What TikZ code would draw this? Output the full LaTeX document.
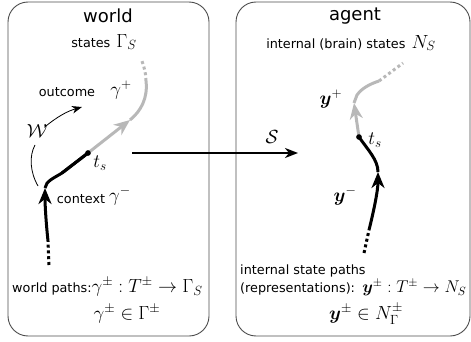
\RequirePackage{fix-cm}
\documentclass[tikz,border=0pt]{standalone}
\usepackage{amsmath,bm}
\usepackage[no-math]{fontspec}
\setmainfont{DejaVu Sans}
\usetikzlibrary{arrows.meta}
\definecolor{lg}{gray}{0.72}
\definecolor{boxc}{gray}{0.3}
\tikzset{
  panel/.style={draw=boxc,line width=0.9pt,rounded corners=20pt},
  ttl/.style={font=\fontsize{18}{21}\selectfont,inner sep=0pt},
  txt/.style={font=\fontsize{12.8}{15}\selectfont,inner sep=0pt},
  mlab/.style={font=\fontsize{19}{22}\selectfont,inner sep=0pt},
  mlabs/.style={font=\fontsize{17}{20}\selectfont,inner sep=0pt},
  bpath/.style={line width=3pt,black},
  gpath/.style={line width=3pt,lg},
  dotted line/.style={dash pattern=on 3pt off 2.8pt},
  ptip/.style={-{Stealth[length=16pt,width=13pt,inset=5pt]}},
  dotn/.style={circle,fill=black,inner sep=0pt,minimum size=5pt},
}
\newcommand{\tx}[1]{{\fontsize{12.8}{15}\selectfont #1}}
\begin{document}
\begin{tikzpicture}[x=1pt,y=-1pt]
\useasboundingbox (0,0) rectangle (471,342);
% panels
\draw[panel] (8,2) rectangle (209,336);
\draw[panel] (236,2) rectangle (470,336);
% titles
\node[ttl] (tw) at (108,16) {world};
\node[mlab] (sw) at (104,42) {\tx{states} $\Gamma_S$};
\node[ttl] (ta) at (355,16) {agent};
\node[mlab] (sa) at (351,43) {\tx{internal (brain) states} $N_S$};
% left world path
\node[dotn] (tsL) at (88,153) {};
\coordinate (lb0) at (49,265);
\coordinate (lb1) at (48,241);
\coordinate (lbA) at (45,188);
\coordinate (lbk) at (62,173);
\draw[bpath,dotted line] (lb0) -- (lb1);
\draw[bpath,ptip] (lb1) .. controls (46,222) and (45,205) .. (lbA);
\draw[bpath] (lbA) .. controls (46,181) and (54,178) .. (lbk) -- (tsL.center);
\coordinate (lgA) at (130,120);
\coordinate (lg1) at (146,81);
\coordinate (lg2) at (142,61);
\draw[gpath,ptip] (tsL.center) -- (lgA);
\draw[gpath] (lgA) .. controls (141,111) and (148,98) .. (lg1);
\draw[gpath,dotted line] (lg1) .. controls (146,73) and (144,67) .. (lg2);
\draw[bpath] (lbk) -- (tsL.center);
\fill (tsL) circle (2.8pt);
% labels left
\node[txt] (outc) at (67,92) {outcome};
\node[mlab] (gp) at (121,90) {$\gamma^+$};
\node[txt] (ctx) at (81,199) {context};
\node[mlab] (gm) at (120,196) {$\gamma^-$};
\node[mlab] (tsl) at (100,163) {$t_s$};
% W arrow
\node[mlab] (W) at (37,131) {$\mathcal{W}$};
\coordinate (w0) at (38,186);
\coordinate (w1) at (82,107);
\draw[line width=0.8pt] (w0) .. controls (30,172) and (29,156) .. (35,145);
\draw[line width=0.8pt,-{Stealth[length=10pt,width=7.5pt,inset=3pt]}] (W.north east) ++(-3,3) .. controls (58,116) and (68,111) .. (w1);
% S arrow
\coordinate (s0) at (132,153);
\coordinate (s1) at (298,153);
\draw[line width=2.2pt,-{Stealth[length=13pt,width=10pt,inset=4pt]}] (s0) -- (s1);
\node[mlab] (S) at (272,137) {$\mathcal{S}$};
% right agent path
\node[dotn] (tsR) at (359,137) {};
\coordinate (rb0) at (364,253);
\coordinate (rb1) at (369,230);
\coordinate (rbA) at (378,172);
\draw[bpath,dotted line] (rb0) -- (rb1);
\draw[bpath,ptip] (rb1) .. controls (374,210) and (378,190) .. (rbA);
\draw[bpath] (rbA) .. controls (378,160) and (368,150) .. (tsR.center);
\coordinate (rgA) at (354,103);
\coordinate (rgk) at (357,95);
\coordinate (rg1) at (379,81);
\coordinate (rg2) at (403,63);
\draw[gpath,ptip] (tsR.center) -- (rgA);
\draw[gpath] (rgA) -- (rgk) .. controls (362,88) and (370,84) .. (rg1);
\draw[gpath,dotted line] (rg1) -- (rg2);
\fill (tsR) circle (2.8pt);
\node[mlab] (yp) at (331,99) {$\bm{y}^+$};
\node[mlab] (ym) at (345,196) {$\bm{y}^-$};
\node[mlab] (tsr) at (375,140) {$t_s$};
% bottom texts
\node[mlab,anchor=west] (wp) at (12,287) {\tx{world paths:}$\gamma^\pm : T^\pm \to \Gamma_S$};
\node[mlab] (wg) at (127,314) {$\gamma^\pm \in \Gamma^\pm$};
\node[txt,anchor=west] (ip1) at (240,271) {internal state paths};
\node[mlabs,anchor=west] (ip2) at (240,288) {\tx{(representations):} $\bm{y}^\pm : T^\pm \to N_S$};
\node[mlab] (ig) at (366,314) {$\bm{y}^\pm \in N^\pm_\Gamma$};
\end{tikzpicture}
\end{document}
